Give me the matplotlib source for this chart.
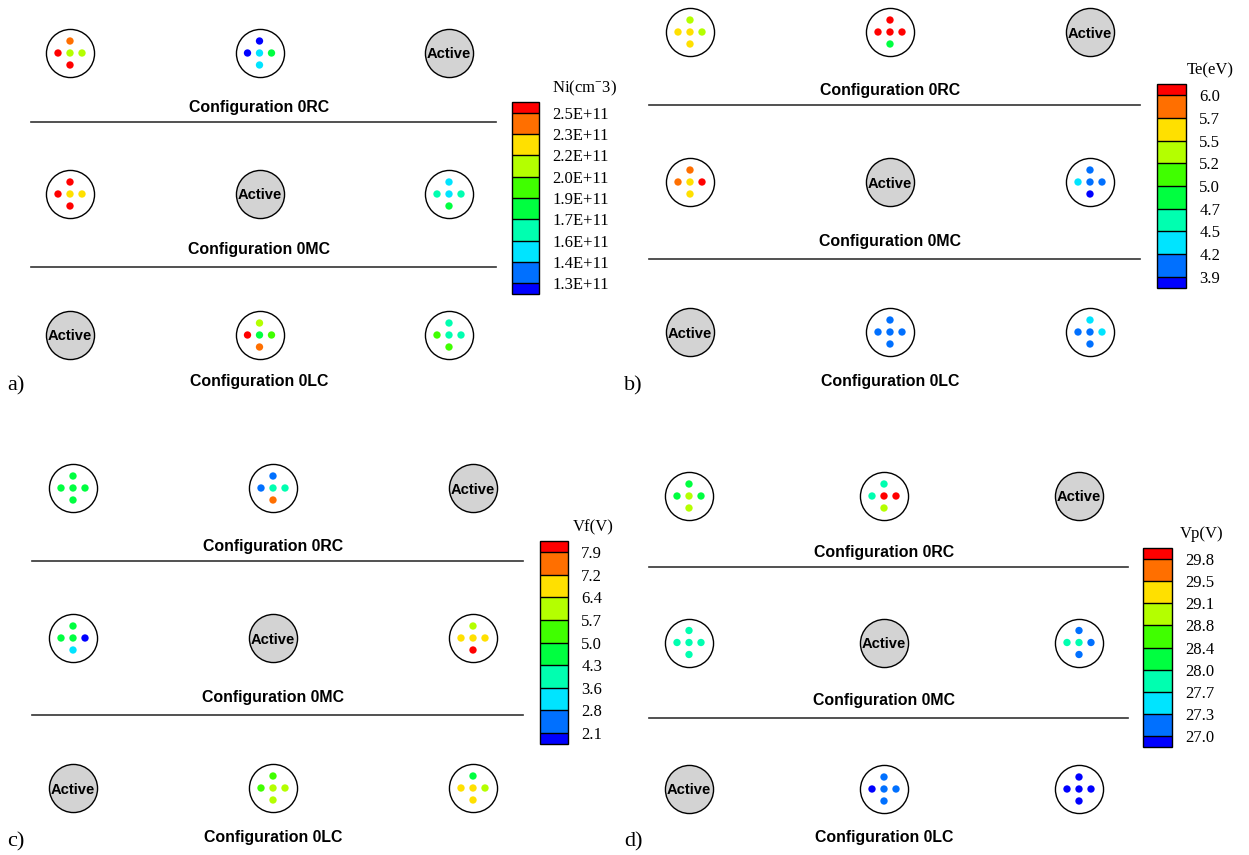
import numpy as np
import matplotlib
matplotlib.use("Agg")
import matplotlib.pyplot as plt
from matplotlib.colors import ListedColormap, BoundaryNorm
from matplotlib.cm import ScalarMappable

plt.rcParams['mathtext.fontset'] = 'custom'
plt.rcParams['mathtext.rm'] = 'Liberation Serif'

# legend colours, lowest level first
level_colors = ["#0000FF", "#0070FF", "#00E4FF", "#00FFB0", "#00FF40",
                "#40FF00", "#B4FF00", "#FFE000", "#FF6F00", "#FF0000"]

configs = ["Configuration 0RC", "Configuration 0MC", "Configuration 0LC"]

# level of every probe pin: top, left, centre, right, bottom (None = active)
ni_levels = [
    [[8, 9, 6, 6, 9], [0, 0, 2, 4, 2], None],
    [[9, 9, 7, 7, 9], None, [2, 3, 2, 3, 4]],
    [None, [6, 9, 4, 5, 8], [3, 5, 3, 3, 5]],
]
te_levels = [
    [[6, 7, 7, 6, 7], [9, 9, 9, 9, 4], None],
    [[8, 8, 7, 9, 7], None, [1, 2, 1, 1, 0]],
    [None, [1, 1, 1, 1, 1], [2, 1, 1, 2, 1]],
]
vf_levels = [
    [[4, 4, 4, 4, 4], [1, 1, 3, 3, 8], None],
    [[4, 4, 4, 0, 2], None, [6, 7, 7, 7, 9]],
    [None, [5, 5, 6, 6, 6], [4, 7, 7, 6, 7]],
]
vp_levels = [
    [[4, 4, 6, 4, 6], [3, 3, 9, 9, 6], None],
    [[3, 3, 3, 3, 3], None, [1, 3, 3, 1, 1]],
    [None, [1, 0, 1, 1, 1], [0, 0, 0, 0, 0]],
]

ni_ticks = ["1.3E+11", "1.4E+11", "1.6E+11", "1.7E+11", "1.9E+11",
            "2.0E+11", "2.2E+11", "2.3E+11", "2.5E+11"]
te_ticks = ["3.9", "4.2", "4.5", "4.7", "5.0", "5.2", "5.5", "5.7", "6.0"]
vf_ticks = ["2.1", "2.8", "3.6", "4.3", "5.0", "5.7", "6.4", "7.2", "7.9"]
vp_ticks = ["27.0", "27.3", "27.7", "28.0", "28.4", "28.8", "29.1", "29.5", "29.8"]

panels = [
    ("a)", "Ni(cm$^{-}$3)", ni_ticks, ni_levels),
    ("b)", "Te(eV)", te_ticks, te_levels),
    ("c)", "Vf(V)", vf_ticks, vf_levels),
    ("d)", "Vp(V)", vp_ticks, vp_levels),
]

W, H = 1249, 855
# layout in pixels: first/last column x, first/last row y
grid_px = [(70, 449, 53, 335), (690, 1090, 32, 332),
           (73, 473, 488, 788), (689, 1079, 496, 789)]
# colorbar boxes: left, top, right, bottom
cbar_px = [(512, 102, 539, 294), (1157, 84, 1186, 288),
           (540, 541, 568, 744), (1143, 548, 1172, 747)]
title_dx = [13, 1, 5, 8]

cmap = ListedColormap(level_colors)
cmap.set_over(level_colors[-1])
cmap.set_under(level_colors[0])
bounds = [0] + [i + 0.5 for i in range(9)] + [9]
norm = BoundaryNorm(bounds, cmap.N)

sans = "Liberation Sans"
serif = "Liberation Serif"

fig = plt.figure(figsize=(W / 100, H / 100), dpi=100)

for p, (letter, title, ticks, levels) in enumerate(panels):
    c0, c2, r0, r2 = grid_px[p]
    ux = (c2 - c0) / 2
    uy = (r2 - r0) / 2
    left = c0 - 0.5 * ux
    top = r0 - 0.5 * uy
    ax = fig.add_axes([left / W, 1 - (top + 3 * uy) / H, 3 * ux / W, 3 * uy / H])
    ax.set_xlim(-0.5, 2.5)
    ax.set_ylim(2.5, -0.5)
    ax.axis('off')

    dx = 12 / ux
    dy = 12 / uy
    off_x = np.array([0, -dx, 0, dx, 0])
    off_y = np.array([-dy, 0, 0, 0, dy])

    for r in range(3):
        for c in range(3):
            lv = levels[r][c]
            if lv is None:
                ax.scatter([c], [r], s=1200, facecolor="#D3D3D3",
                           edgecolor="black", linewidth=1.0, zorder=2)
                ax.text(c, r + 0.01, "Active", ha='center', va='center',
                        fontsize=10.6, fontweight='bold', family=sans, zorder=3)
            else:
                ax.scatter([c], [r], s=1200, facecolor="white",
                           edgecolor="black", linewidth=1.0, zorder=2)
                ax.scatter(c + off_x, r + off_y, c=lv, cmap=cmap, norm=norm,
                           s=28, linewidth=0, zorder=3)
        ax.text(1, [0.387, 1.397, 2.33][r], configs[r], ha='center',
                va='center', fontsize=11.4, fontweight='bold', family=sans)
    for yl in [0.487, 1.515]:
        ax.plot([-0.205, 2.25], [yl, yl], color="#333333", lw=1.2, clip_on=False)
    ax.text(-0.285, 2.36, letter, ha='center', va='center', fontsize=16,
            family=serif, clip_on=False)

    cl, ct, cr, cb = cbar_px[p]
    cax = fig.add_axes([cl / W, 1 - cb / H, (cr - cl) / W, (cb - ct) / H])
    sm = ScalarMappable(norm=norm, cmap=cmap)
    cbar = fig.colorbar(sm, cax=cax, spacing='proportional',
                        ticks=[i + 0.5 for i in range(9)], drawedges=True)
    cbar.ax.minorticks_off()
    cbar.ax.set_yticklabels(ticks, family=serif, fontsize=12)
    cbar.ax.tick_params(which='both', length=0, pad=9.5)
    cbar.outline.set_linewidth(1.0)
    cbar.dividers.set_linewidth(1.0)
    fig.text((cr + title_dx[p]) / W, 1 - (ct - 14) / H, title, ha='left',
             va='center', fontsize=12, family=serif)

fig.savefig("out.png", dpi=100)
